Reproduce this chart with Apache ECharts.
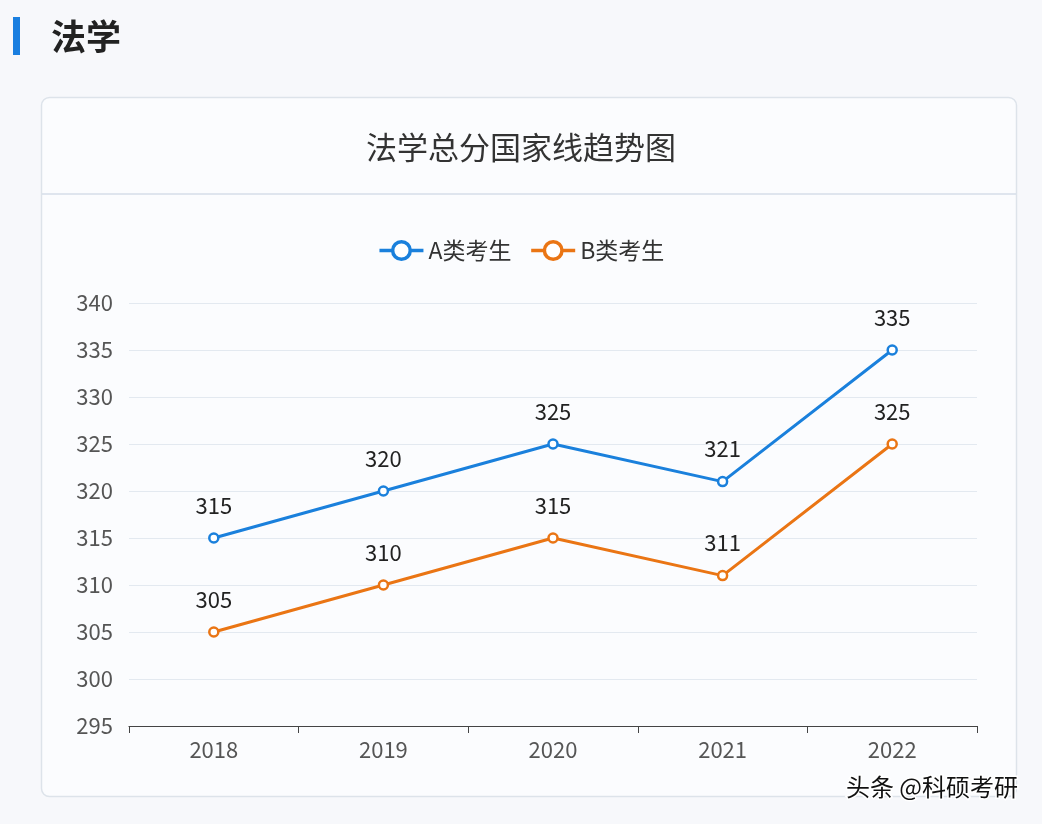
<!DOCTYPE html>
<html><head><meta charset="utf-8">
<script src="https://cdn.jsdelivr.net/npm/echarts@6/dist/echarts.min.js"></script>
<style>html,body{margin:0;padding:0;background:#f7f8fb;}#c{width:1042px;height:824px;}</style>
</head><body><div id="c"></div>
<script>
var categories = ['2018','2019','2020','2021','2022'];
var seriesA = [315, 320, 325, 321, 335];
var seriesB = [305, 310, 315, 311, 325];
var yTicks = [295, 340, 5];
var FONT = '"Noto Sans CJK SC","Noto Sans",sans-serif';
var chart = echarts.init(document.getElementById('c'));
chart.setOption({
  backgroundColor: '#f7f8fb',
  textStyle: {fontFamily: FONT},
  graphic: [
    {type:'rect', shape:{x:13,y:17,width:7,height:38}, style:{fill:'#1a7fe0'}},
    {type:'text', x:51, y:37, style:{text:'法学', font:'bold 35px '+FONT, fill:'#222', textVerticalAlign:'middle'}},
    {type:'rect', shape:{x:41.5,y:97.5,width:975,height:699,r:8}, style:{fill:'#fbfcfe', stroke:'#dde3ea', lineWidth:1.5}},
    {type:'line', shape:{x1:42,y1:194,x2:1016,y2:194}, style:{stroke:'#d6dee8', lineWidth:1.5}},
    {type:'text', x:1018, y:787, style:{text:'头条 @科硕考研', font:'24px '+FONT, fill:'#111', textAlign:'right', textVerticalAlign:'middle', stroke:'#fff', lineWidth:3}}
  ],
  title: {text:'法学总分国家线趋势图', left:'center', top:127, textStyle:{fontSize:31, fontWeight:'normal', color:'#333', fontFamily:FONT}},
  legend: {top:234, left:'center', itemWidth:44, itemHeight:22, itemGap:18,
    textStyle:{fontSize:23, color:'#333', fontFamily:FONT},
    itemStyle:{borderWidth:3.5},
    lineStyle:{width:3.5},
    data:['A类考生','B类考生']},
  grid: {left:129, right:65, top:303, bottom:98},
  xAxis: {type:'category', data:categories, boundaryGap:true,
    axisLine:{lineStyle:{color:'#444', width:1.2}},
    axisTick:{show:true, length:7, lineStyle:{color:'#444'}},
    axisLabel:{fontSize:22, color:'#555', margin:13, fontFamily:FONT}},
  yAxis: {type:'value', min:yTicks[0], max:yTicks[1], interval:yTicks[2],
    axisLine:{show:false}, axisTick:{show:false},
    axisLabel:{fontSize:22, color:'#555', margin:16, fontFamily:FONT},
    splitLine:{lineStyle:{color:'#e3e9f0', width:1.2}}},
  series: [
    {name:'A类考生', type:'line', data:seriesA, symbol:'circle', symbolSize:9,
      itemStyle:{color:'#fff', borderColor:'#1a80dc', borderWidth:2.5},
      lineStyle:{color:'#1a80dc', width:3},
      label:{show:true, position:'top', distance:16, fontSize:22, color:'#222', fontFamily:FONT}},
    {name:'B类考生', type:'line', data:seriesB, symbol:'circle', symbolSize:9,
      itemStyle:{color:'#fff', borderColor:'#ea7514', borderWidth:2.5},
      lineStyle:{color:'#ea7514', width:3},
      label:{show:true, position:'top', distance:16, fontSize:22, color:'#222', fontFamily:FONT}}
  ]
});
</script></body></html>
